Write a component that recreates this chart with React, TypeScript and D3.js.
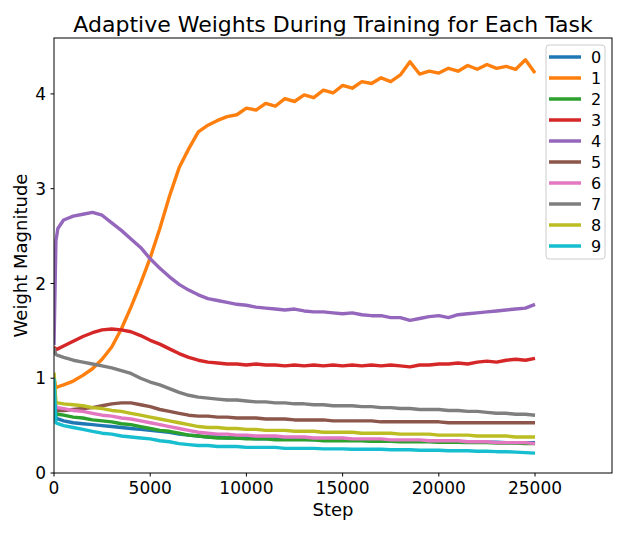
import React from "react";
import * as d3 from "d3";

// training steps at which the weights were sampled
const steps = [
  0, 100, 200, 500, 1000, 1500, 2000, 2500, 3000, 3500, 4000, 4500, 5000, 5500,
  6000, 6500, 7000, 7500, 8000, 8500, 9000, 9500, 10000, 10500, 11000, 11500,
  12000, 12500, 13000, 13500, 14000, 14500, 15000, 15500, 16000, 16500, 17000,
  17500, 18000, 18500, 19000, 19500, 20000, 20500, 21000, 21500, 22000, 22500,
  23000, 23500, 24000, 24500, 25000,
];

const task0 = [
  0.95, 0.58, 0.57, 0.55, 0.53, 0.52, 0.51, 0.5, 0.49, 0.48, 0.47, 0.46, 0.45,
  0.44, 0.43, 0.41, 0.4, 0.39, 0.38, 0.38, 0.37, 0.37, 0.37, 0.36, 0.36, 0.36,
  0.36, 0.355, 0.355, 0.35, 0.35, 0.35, 0.345, 0.345, 0.345, 0.34, 0.34, 0.34,
  0.34, 0.335, 0.335, 0.335, 0.33, 0.33, 0.33, 0.33, 0.325, 0.325, 0.325, 0.32,
  0.32, 0.32, 0.32,
];
const task1 = [
  1.0, 0.9, 0.91, 0.93, 0.97, 1.03, 1.1, 1.2, 1.33, 1.52, 1.75, 2.0, 2.27, 2.58,
  2.92, 3.22, 3.42, 3.6, 3.67, 3.72, 3.76, 3.78, 3.85, 3.83, 3.9, 3.87, 3.95,
  3.92, 3.99, 3.96, 4.04, 4.01, 4.09, 4.06, 4.13, 4.11, 4.17, 4.13, 4.2, 4.34,
  4.21, 4.24, 4.22, 4.27, 4.24, 4.3, 4.26, 4.31, 4.27, 4.29, 4.26, 4.36, 4.22,
];
const task2 = [
  0.95, 0.63, 0.62, 0.61, 0.59, 0.58, 0.56, 0.55, 0.54, 0.52, 0.51, 0.49, 0.47,
  0.45, 0.44, 0.42, 0.4, 0.39, 0.38, 0.37, 0.37, 0.37, 0.36, 0.36, 0.36, 0.35,
  0.35, 0.35, 0.35, 0.35, 0.34, 0.34, 0.34, 0.34, 0.34, 0.335, 0.335, 0.335,
  0.33, 0.33, 0.33, 0.33, 0.325, 0.325, 0.325, 0.32, 0.32, 0.32, 0.315, 0.315,
  0.315, 0.31, 0.31,
];
const task3 = [
  1.33, 1.3, 1.31, 1.34, 1.39, 1.44, 1.48, 1.51, 1.52, 1.51, 1.49, 1.45, 1.4,
  1.36, 1.31, 1.26, 1.22, 1.19, 1.17, 1.16, 1.15, 1.15, 1.14, 1.15, 1.14, 1.14,
  1.13, 1.14, 1.13, 1.14, 1.13, 1.14, 1.13, 1.14, 1.13, 1.14, 1.13, 1.14, 1.13,
  1.12, 1.14, 1.14, 1.15, 1.15, 1.16, 1.15, 1.17, 1.18, 1.17, 1.19, 1.2, 1.19,
  1.21,
];
const task4 = [
  1.35, 2.45, 2.58, 2.67, 2.71, 2.73, 2.75, 2.72, 2.64, 2.56, 2.47, 2.38, 2.26,
  2.16, 2.07, 1.99, 1.93, 1.88, 1.84, 1.82, 1.8, 1.78, 1.77, 1.75, 1.74, 1.73,
  1.72, 1.73, 1.71, 1.7, 1.7, 1.69, 1.68, 1.69, 1.67, 1.66, 1.66, 1.64, 1.64,
  1.61, 1.63, 1.65, 1.66, 1.64, 1.67, 1.68, 1.69, 1.7, 1.71, 1.72, 1.73, 1.74,
  1.78,
];
const task5 = [
  0.9, 0.66, 0.66, 0.66, 0.67, 0.68, 0.69, 0.71, 0.73, 0.74, 0.74, 0.72, 0.7,
  0.67, 0.65, 0.63, 0.61, 0.6, 0.6, 0.59, 0.59, 0.58, 0.58, 0.58, 0.57, 0.57,
  0.57, 0.56, 0.56, 0.56, 0.56, 0.55, 0.55, 0.55, 0.55, 0.55, 0.54, 0.54, 0.54,
  0.54, 0.54, 0.54, 0.54, 0.53, 0.53, 0.53, 0.53, 0.53, 0.53, 0.53, 0.53, 0.53,
  0.53,
];
const task6 = [
  0.9, 0.7, 0.69, 0.68, 0.66, 0.65, 0.63, 0.61, 0.6, 0.58, 0.57, 0.55, 0.53,
  0.51, 0.49, 0.47, 0.45, 0.43, 0.42, 0.41, 0.41, 0.4, 0.4, 0.39, 0.39, 0.39,
  0.38, 0.38, 0.38, 0.37, 0.37, 0.37, 0.37, 0.36, 0.36, 0.36, 0.36, 0.35, 0.35,
  0.35, 0.35, 0.34, 0.34, 0.34, 0.34, 0.33, 0.33, 0.33, 0.32, 0.32, 0.32, 0.32,
  0.31,
];
const task7 = [
  1.32, 1.25, 1.24, 1.22, 1.19, 1.17, 1.15, 1.13, 1.11, 1.08, 1.05, 1.0, 0.96,
  0.93, 0.89, 0.85, 0.82, 0.8, 0.79, 0.78, 0.77, 0.77, 0.76, 0.75, 0.75, 0.74,
  0.74, 0.73, 0.73, 0.72, 0.72, 0.71, 0.71, 0.71, 0.7, 0.7, 0.69, 0.69, 0.68,
  0.68, 0.67, 0.67, 0.67, 0.66, 0.66, 0.65, 0.65, 0.64, 0.63, 0.63, 0.62, 0.62,
  0.61,
];
const task8 = [
  1.06, 0.75, 0.74, 0.73, 0.72, 0.71, 0.69, 0.68, 0.66, 0.65, 0.63, 0.61, 0.59,
  0.57, 0.55, 0.53, 0.51, 0.49, 0.48, 0.48, 0.47, 0.47, 0.46, 0.46, 0.45, 0.45,
  0.45, 0.44, 0.44, 0.44, 0.43, 0.43, 0.43, 0.43, 0.42, 0.42, 0.42, 0.42, 0.41,
  0.41, 0.41, 0.41, 0.4, 0.4, 0.4, 0.4, 0.39, 0.39, 0.39, 0.39, 0.38, 0.38,
  0.38,
];
const task9 = [
  1.0, 0.53, 0.52, 0.5, 0.48, 0.46, 0.44, 0.42, 0.41, 0.39, 0.38, 0.37, 0.36,
  0.34, 0.33, 0.31, 0.3, 0.29, 0.29, 0.28, 0.28, 0.28, 0.27, 0.27, 0.27, 0.27,
  0.26, 0.26, 0.26, 0.26, 0.255, 0.255, 0.255, 0.25, 0.25, 0.25, 0.25, 0.245,
  0.245, 0.245, 0.24, 0.24, 0.24, 0.235, 0.235, 0.235, 0.23, 0.23, 0.225, 0.225,
  0.22, 0.215, 0.21,
];

const taskNames = ["0", "1", "2", "3", "4", "5", "6", "7", "8", "9"];
const taskSeries = [task0, task1, task2, task3, task4, task5, task6, task7, task8, task9];
const colors = [
  "#1f77b4", "#ff7f0e", "#2ca02c", "#d62728", "#9467bd",
  "#8c564b", "#e377c2", "#7f7f7f", "#bcbd22", "#17becf",
];
const xTicks = [0, 5000, 10000, 15000, 20000, 25000];
const yTicks = [0, 1, 2, 3, 4];

const width = 636;
const height = 535;
const margin = { top: 38, right: 24, bottom: 62, left: 54 };
const font = "DejaVu Sans, sans-serif";

export default function App() {
  const innerW = width - margin.left - margin.right;
  const innerH = height - margin.top - margin.bottom;

  const x = d3.scaleLinear().domain([0, 29000]).range([0, innerW]);
  const y = d3.scaleLinear().domain([0, 4.59]).range([innerH, 0]);

  const line = d3
    .line<number>()
    .x((_, i) => x(steps[i]))
    .y((d) => y(d));

  // legend placement
  const legX = innerW - 66;
  const legY = 7;
  const rowH = 21;

  return (
    <svg
      width={width}
      height={height}
      style={{ position: "absolute", left: 0, top: 0, background: "#fff" }}
      fontFamily={font}
    >
      <text x={margin.left + innerW / 2} y={32} textAnchor="middle" fontSize={22}>
        Adaptive Weights During Training for Each Task
      </text>
      <g transform={`translate(${margin.left},${margin.top})`}>
        <defs>
          <clipPath id="plot-clip">
            <rect width={innerW} height={innerH} />
          </clipPath>
        </defs>
        <g clipPath="url(#plot-clip)">
          {taskSeries.map((s, k) => (
            <path
              key={k}
              d={line(s) ?? ""}
              fill="none"
              stroke={colors[k]}
              strokeWidth={3.4}
              strokeLinejoin="round"
            />
          ))}
        </g>

        {/* axes frame */}
        <rect width={innerW} height={innerH} fill="none" stroke="#000" strokeWidth={1} />

        {xTicks.map((t) => (
          <g key={t} transform={`translate(${x(t)},${innerH})`}>
            <line y2={3.5} stroke="#000" />
            <text y={21} textAnchor="middle" fontSize={17}>
              {t}
            </text>
          </g>
        ))}
        {yTicks.map((t) => (
          <g key={t} transform={`translate(0,${y(t)})`}>
            <line x2={-3.5} stroke="#000" />
            <text x={-8} dy="0.36em" textAnchor="end" fontSize={17}>
              {t}
            </text>
          </g>
        ))}

        <text x={innerW / 2} y={innerH + 42.5} textAnchor="middle" fontSize={18}>
          Step
        </text>
        <text
          transform={`translate(${-27},${innerH / 2}) rotate(-90)`}
          textAnchor="middle"
          fontSize={18}
        >
          Weight Magnitude
        </text>

        {/* legend */}
        <g transform={`translate(${legX},${legY})`}>
          <rect
            width={59}
            height={214}
            rx={3}
            fill="#fff"
            fillOpacity={0.8}
            stroke="#cccccc"
          />
          {taskNames.map((name, k) => (
            <g key={name} transform={`translate(0,${12 + k * rowH})`}>
              <line x1={3} x2={35} stroke={colors[k]} strokeWidth={3.5} />
              <text x={45} dy="0.36em" fontSize={16}>
                {name}
              </text>
            </g>
          ))}
        </g>
      </g>
    </svg>
  );
}
